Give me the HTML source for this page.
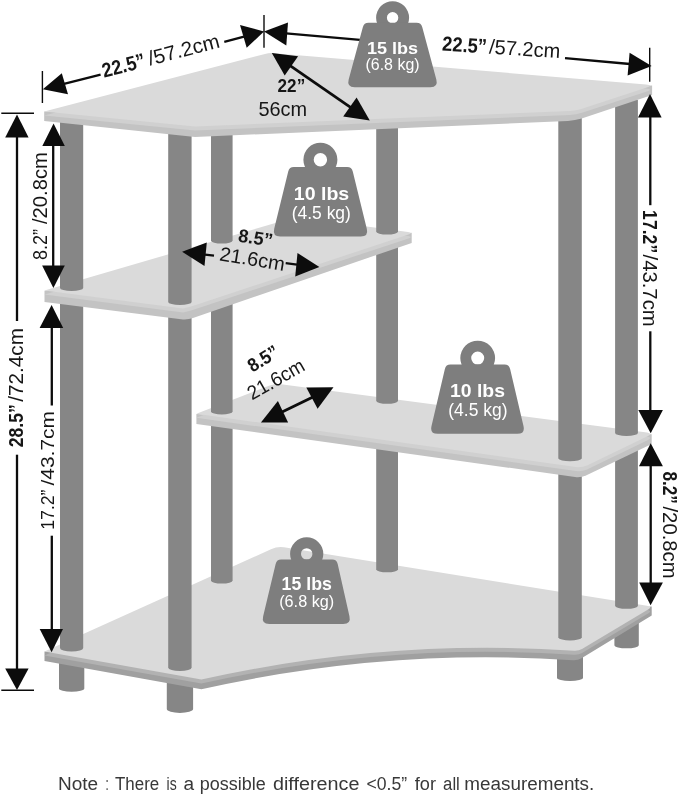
<!DOCTYPE html>
<html><head><meta charset="utf-8"><title>Corner desk dimensions</title>
<style>
html,body{margin:0;padding:0;background:#fff;}
body{width:679px;height:795px;overflow:hidden;}
svg{display:block;font-family:"Liberation Sans",sans-serif;will-change:transform;}
</style></head><body>
<svg width="679" height="795" viewBox="0 0 679 795">
<rect width="679" height="795" fill="#ffffff"/>
<path d="M59.0 655.0 L59.0 688.6 A12.6 3.2 0 0 0 84.3 688.6 L84.3 655.0 Z" fill="#868686"/>
<path d="M166.8 680.0 L166.8 709.1 A13.1 3.8 0 0 0 193.1 709.1 L193.1 680.0 Z" fill="#868686"/>
<path d="M557.0 650.0 L557.0 677.8 A13.0 3.2 0 0 0 583.0 677.8 L583.0 650.0 Z" fill="#868686"/>
<path d="M614.4 615.0 L614.4 645.3 A12.2 3.0 0 0 0 638.8 645.3 L638.8 615.0 Z" fill="#868686"/>
<path d="M44.5 651.6 L44.5 660.9 L201.4 689.3 Q387 647.5 573 660.3 Q577.5 660.6 581.5 658.2 L651.7 615.5 L651.7 606.5 Z" fill="#a0a0a0"/>
<path d="M44.5 651.6 L271 549.2 Q277.5 546.3 284 547.3 L647 605.8 Q652.5 606.7 648.5 609.2 L582 649.0 Q579 650.9 574.5 650.8 Q387 638 201.4 679.6 Z" fill="#b2b2b2" transform="translate(0 4)"/>
<path d="M44.5 651.6 L271 549.2 Q277.5 546.3 284 547.3 L647 605.8 Q652.5 606.7 648.5 609.2 L582 649.0 Q579 650.9 574.5 650.8 Q387 638 201.4 679.6 Z" fill="#dadada"/>
<path d="M60.0 298.0 L60.0 648.0 A11.6 3.6 0 0 0 83.2 648.0 L83.2 298.0 Z" fill="#868686"/>
<path d="M168.2 312.0 L168.2 667.4 A11.7 3.6 0 0 0 191.6 667.4 L191.6 312.0 Z" fill="#868686"/>
<path d="M211.0 418.0 L211.0 580.6 A10.8 3.0 0 0 0 232.6 580.6 L232.6 418.0 Z" fill="#868686"/>
<path d="M376.2 440.0 L376.2 569.3 A10.9 3.0 0 0 0 398.0 569.3 L398.0 440.0 Z" fill="#868686"/>
<path d="M558.3 468.0 L558.3 637.4 A11.8 3.4 0 0 0 581.8 637.4 L581.8 468.0 Z" fill="#868686"/>
<path d="M615.1 445.0 L615.1 605.8 A11.4 3.0 0 0 0 637.9 605.8 L637.9 445.0 Z" fill="#868686"/>
<path d="M196.4 414 L196.4 423.9 L575 477.0 Q581 477.8 586.5 475.2 L651.7 444.0 L651.7 434.2 Z" fill="#c3c3c3"/>
<path d="M196.4 413.8 L269 385.8 Q275 383.5 281 384.3 L647 432.6 Q653 433.6 648 436 L587 465.4 Q582 467.6 576 467.0 Z" fill="#d0d0d0" transform="translate(0 4)"/>
<path d="M196.4 413.8 L269 385.8 Q275 383.5 281 384.3 L647 432.6 Q653 433.6 648 436 L587 465.4 Q582 467.6 576 467.0 Z" fill="#dadada"/>
<path d="M211.0 300.0 L211.0 411.5 A10.8 3.0 0 0 0 232.6 411.5 L232.6 300.0 Z" fill="#868686"/>
<path d="M376.2 242.0 L376.2 400.8 A10.9 3.0 0 0 0 398.0 400.8 L398.0 242.0 Z" fill="#868686"/>
<path d="M558.3 115.0 L558.3 458.6 A11.8 3.0 0 0 0 581.8 458.6 L581.8 115.0 Z" fill="#868686"/>
<path d="M615.1 100.0 L615.1 433.0 A11.4 3.0 0 0 0 637.9 433.0 L637.9 100.0 Z" fill="#868686"/>
<path d="M44.5 290.8 L44.5 301.9 L181 319.2 Q187.5 320 193 318 L411.7 242.9 L411.7 232.7 Z" fill="#c3c3c3"/>
<path d="M44.5 290.5 L295.8 217.1 L408 232.0 Q413.5 232.7 408.5 234.4 L195 305.3 Q189.5 307.3 183 308.4 Z" fill="#d0d0d0" transform="translate(0 4)"/>
<path d="M44.5 290.5 L295.8 217.1 L408 232.0 Q413.5 232.7 408.5 234.4 L195 305.3 Q189.5 307.3 183 308.4 Z" fill="#dadada"/>
<path d="M60.0 115.0 L60.0 288.0 A11.6 3.0 0 0 0 83.2 288.0 L83.2 115.0 Z" fill="#868686"/>
<path d="M168.2 128.0 L168.2 301.9 A11.7 3.0 0 0 0 191.6 301.9 L191.6 128.0 Z" fill="#868686"/>
<path d="M211.0 130.0 L211.0 240.6 A10.8 3.0 0 0 0 232.6 240.6 L232.6 130.0 Z" fill="#868686"/>
<path d="M376.2 122.0 L376.2 231.6 A10.9 3.0 0 0 0 398.0 231.6 L398.0 122.0 Z" fill="#868686"/>
<path d="M44.2 111.5 L44.2 120.9 L195 137 L568 120.9 Q575 120.6 581.7 118.6 L652.1 95 L652.1 85.6 Z" fill="#c3c3c3"/>
<path d="M44.2 111.5 L265 53.9 Q269.3 52.8 274 53.2 L646 84.6 Q653 85.3 647.5 87.2 L582 108.8 Q576 110.7 570 110.9 L195 126.5 Z" fill="#d0d0d0" transform="translate(0 4)"/>
<path d="M44.2 111.5 L265 53.9 Q269.3 52.8 274 53.2 L646 84.6 Q653 85.3 647.5 87.2 L582 108.8 Q576 110.7 570 110.9 L195 126.5 Z" fill="#dadada"/>
<line x1="1.3" y1="113.2" x2="34.0" y2="113.2" stroke="#0c0c0c" stroke-width="1.40"/>
<line x1="1.3" y1="690.2" x2="34.0" y2="690.2" stroke="#0c0c0c" stroke-width="1.40"/>
<line x1="17.0" y1="135.0" x2="17.0" y2="321.0" stroke="#0c0c0c" stroke-width="2.30"/>
<line x1="17.0" y1="454.7" x2="17.0" y2="672.0" stroke="#0c0c0c" stroke-width="2.30"/>
<polygon points="17.0,114.4 5.2,137.6 28.6,137.6" fill="#0c0c0c" />
<polygon points="17.0,690.0 5.2,668.6 28.6,668.6" fill="#0c0c0c" />
<line x1="53.2" y1="144.0" x2="53.2" y2="268.0" stroke="#0c0c0c" stroke-width="2.30"/>
<polygon points="53.6,123.4 42.3,146.0 64.8,146.0" fill="#0c0c0c" />
<polygon points="53.4,288.0 42.1,265.6 64.8,265.6" fill="#0c0c0c" />
<line x1="51.8" y1="326.0" x2="51.8" y2="405.5" stroke="#0c0c0c" stroke-width="2.30"/>
<line x1="51.8" y1="535.7" x2="51.8" y2="631.0" stroke="#0c0c0c" stroke-width="2.30"/>
<polygon points="51.6,305.0 39.6,328.0 63.2,328.0" fill="#0c0c0c" />
<polygon points="51.6,652.3 39.7,629.0 63.0,629.0" fill="#0c0c0c" />
<line x1="649.7" y1="47.8" x2="649.7" y2="81.7" stroke="#0c0c0c" stroke-width="1.40"/>
<line x1="650.3" y1="115.0" x2="650.3" y2="205.2" stroke="#0c0c0c" stroke-width="2.30"/>
<line x1="650.3" y1="331.3" x2="650.3" y2="412.0" stroke="#0c0c0c" stroke-width="2.30"/>
<polygon points="650.0,94.0 638.0,117.5 661.6,117.5" fill="#0c0c0c" />
<polygon points="650.7,433.2 638.3,410.0 662.9,410.0" fill="#0c0c0c" />
<line x1="650.7" y1="464.0" x2="650.7" y2="585.0" stroke="#0c0c0c" stroke-width="2.30"/>
<polygon points="650.7,443.2 639.0,466.3 662.9,466.3" fill="#0c0c0c" />
<polygon points="650.6,605.3 639.2,582.6 662.9,582.6" fill="#0c0c0c" />
<line x1="42.4" y1="71.0" x2="42.4" y2="103.0" stroke="#0c0c0c" stroke-width="1.40"/>
<line x1="264.0" y1="15.0" x2="264.0" y2="47.8" stroke="#0c0c0c" stroke-width="1.40"/>
<line x1="63.0" y1="84.1" x2="100.6" y2="74.6" stroke="#0c0c0c" stroke-width="2.30"/>
<line x1="224.3" y1="41.8" x2="244.0" y2="36.6" stroke="#0c0c0c" stroke-width="2.30"/>
<polygon points="42.8,89.3 68.0,94.2 61.8,73.2" fill="#0c0c0c" />
<polygon points="264.0,31.4 240.0,25.0 246.7,47.8" fill="#0c0c0c" />
<line x1="286.0" y1="33.3" x2="360.0" y2="39.9" stroke="#0c0c0c" stroke-width="2.30"/>
<line x1="565.0" y1="58.2" x2="630.0" y2="64.0" stroke="#0c0c0c" stroke-width="2.30"/>
<polygon points="264.0,31.4 288.0,22.4 286.3,45.4" fill="#0c0c0c" />
<polygon points="651.6,65.9 629.6,52.8 627.6,75.6" fill="#0c0c0c" />
<line x1="285.0" y1="62.1" x2="356.0" y2="111.1" stroke="#0c0c0c" stroke-width="2.80"/>
<polygon points="271.8,53.0 298.1,56.3 284.7,75.4" fill="#0c0c0c" />
<polygon points="369.8,120.4 343.2,116.6 356.6,97.6" fill="#0c0c0c" />
<line x1="205.0" y1="254.6" x2="214.0" y2="255.6" stroke="#0c0c0c" stroke-width="2.30"/>
<line x1="285.7" y1="263.2" x2="297.0" y2="264.6" stroke="#0c0c0c" stroke-width="2.30"/>
<polygon points="182.1,251.8 206.8,242.4 204.5,265.9" fill="#0c0c0c" />
<polygon points="319.4,267.1 297.5,253.0 295.2,276.6" fill="#0c0c0c" />
<line x1="281.0" y1="412.5" x2="314.0" y2="396.5" stroke="#0c0c0c" stroke-width="3.00"/>
<polygon points="260.9,422.5 277.9,401.1 288.1,422.5" fill="#0c0c0c" />
<polygon points="333.5,387.2 306.3,387.6 317.6,408.7" fill="#0c0c0c" />
<path d="M376.10 17.70 a16.50 16.50 0 1 0 33.00 0 a16.50 16.50 0 1 0 -33.00 0 Z M386.90 17.70 a5.70 5.70 0 1 1 11.40 0 a5.70 5.70 0 1 1 -11.40 0 Z" fill="#7e7e7e" fill-rule="evenodd"/>
<path d="M362.83 27.14 Q364.00 22.80 368.50 22.80 L416.60 22.80 Q421.10 22.80 422.27 27.15 L436.33 79.57 Q438.40 87.30 430.40 87.30 L354.60 87.30 Q346.60 87.30 348.68 79.58 Z" fill="#7e7e7e"/>
<text transform="translate(367.0 53.8) rotate(0.00)" font-size="17.20" fill="#ffffff" text-anchor="start" textLength="51.1" lengthAdjust="spacingAndGlyphs"><tspan font-weight="bold">15 lbs</tspan></text>
<text transform="translate(365.5 70.4) rotate(0.00)" font-size="16.50" fill="#ffffff" text-anchor="start" textLength="54.1" lengthAdjust="spacingAndGlyphs"><tspan font-weight="normal">(6.8 kg)</tspan></text>
<path d="M303.40 159.80 a17.00 17.00 0 1 0 34.00 0 a17.00 17.00 0 1 0 -34.00 0 Z M313.70 159.80 a6.70 6.70 0 1 1 13.40 0 a6.70 6.70 0 1 1 -13.40 0 Z" fill="#7e7e7e" fill-rule="evenodd"/>
<path d="M288.23 171.47 Q289.30 167.10 293.80 167.10 L347.20 167.10 Q351.70 167.10 352.77 171.47 L366.80 228.73 Q368.70 236.50 360.70 236.50 L280.30 236.50 Q272.30 236.50 274.20 228.73 Z" fill="#7e7e7e"/>
<text transform="translate(293.8 199.8) rotate(0.00)" font-size="18.60" fill="#ffffff" text-anchor="start" textLength="55.4" lengthAdjust="spacingAndGlyphs"><tspan font-weight="bold">10 lbs</tspan></text>
<text transform="translate(291.7 218.9) rotate(0.00)" font-size="18.00" fill="#ffffff" text-anchor="start" textLength="59.2" lengthAdjust="spacingAndGlyphs"><tspan font-weight="normal">(4.5 kg)</tspan></text>
<path d="M460.30 358.10 a17.40 17.40 0 1 0 34.80 0 a17.40 17.40 0 1 0 -34.80 0 Z M471.20 358.10 a6.50 6.50 0 1 1 13.00 0 a6.50 6.50 0 1 1 -13.00 0 Z" fill="#7e7e7e" fill-rule="evenodd"/>
<path d="M444.88 368.88 Q445.90 364.50 450.40 364.50 L504.60 364.50 Q509.10 364.50 510.12 368.88 L523.48 426.01 Q525.30 433.80 517.30 433.80 L437.70 433.80 Q429.70 433.80 431.52 426.01 Z" fill="#7e7e7e"/>
<text transform="translate(450.0 397.4) rotate(0.00)" font-size="18.40" fill="#ffffff" text-anchor="start" textLength="55.0" lengthAdjust="spacingAndGlyphs"><tspan font-weight="bold">10 lbs</tspan></text>
<text transform="translate(448.3 415.8) rotate(0.00)" font-size="17.80" fill="#ffffff" text-anchor="start" textLength="59.2" lengthAdjust="spacingAndGlyphs"><tspan font-weight="normal">(4.5 kg)</tspan></text>
<path d="M290.10 553.90 a16.60 16.60 0 1 0 33.20 0 a16.60 16.60 0 1 0 -33.20 0 Z M301.00 553.90 a5.70 5.70 0 1 1 11.40 0 a5.70 5.70 0 1 1 -11.40 0 Z" fill="#7e7e7e" fill-rule="evenodd"/>
<path d="M275.65 563.88 Q276.70 559.50 281.20 559.50 L332.20 559.50 Q336.70 559.50 337.69 563.89 L349.45 616.19 Q351.20 624.00 343.20 624.00 L269.30 624.00 Q261.30 624.00 263.16 616.22 Z" fill="#7e7e7e"/>
<text transform="translate(281.6 590.3) rotate(0.00)" font-size="18.40" fill="#ffffff" text-anchor="start" textLength="50.2" lengthAdjust="spacingAndGlyphs"><tspan font-weight="bold">15 lbs</tspan></text>
<text transform="translate(279.2 606.8) rotate(0.00)" font-size="17.00" fill="#ffffff" text-anchor="start" textLength="55.0" lengthAdjust="spacingAndGlyphs"><tspan font-weight="normal">(6.8 kg)</tspan></text>
<text transform="translate(104.1 77.7) rotate(-14.70)" font-size="20.40" fill="#161616" text-anchor="start" textLength="43.8" lengthAdjust="spacingAndGlyphs"><tspan font-weight="bold">22.5”</tspan></text>
<text transform="translate(150.0 65.6) rotate(-14.70)" font-size="20.40" fill="#161616" text-anchor="start" textLength="73.1" lengthAdjust="spacingAndGlyphs"><tspan font-weight="normal">/57.2cm</tspan></text>
<text transform="translate(441.8 50.6) rotate(3.60)" font-size="20.40" fill="#161616" text-anchor="start" textLength="44.8" lengthAdjust="spacingAndGlyphs"><tspan font-weight="bold">22.5”</tspan></text>
<text transform="translate(488.8 53.6) rotate(3.60)" font-size="20.40" fill="#161616" text-anchor="start" textLength="71.2" lengthAdjust="spacingAndGlyphs"><tspan font-weight="normal">/57.2cm</tspan></text>
<text transform="translate(277.6 91.7) rotate(0.00)" font-size="18.40" fill="#161616" text-anchor="start" textLength="27.6" lengthAdjust="spacingAndGlyphs"><tspan font-weight="bold">22”</tspan></text>
<text transform="translate(258.4 115.6) rotate(0.00)" font-size="20.40" fill="#161616" text-anchor="start" textLength="48.7" lengthAdjust="spacingAndGlyphs"><tspan font-weight="normal">56cm</tspan></text>
<text transform="translate(237.6 241.4) rotate(9.00)" font-size="18.40" fill="#161616" text-anchor="start" textLength="34.5" lengthAdjust="spacingAndGlyphs"><tspan font-weight="bold">8.5”</tspan></text>
<text transform="translate(218.8 260.2) rotate(9.40)" font-size="19.80" fill="#161616" text-anchor="start" textLength="65.7" lengthAdjust="spacingAndGlyphs"><tspan font-weight="normal">21.6cm</tspan></text>
<text transform="translate(252.4 372.8) rotate(-31.50)" font-size="19.00" fill="#161616" text-anchor="start" textLength="33.0" lengthAdjust="spacingAndGlyphs"><tspan font-weight="bold">8.5”</tspan></text>
<text transform="translate(252.0 400.6) rotate(-29.60)" font-size="19.80" fill="#161616" text-anchor="start" textLength="62.4" lengthAdjust="spacingAndGlyphs"><tspan font-weight="normal">21.6cm</tspan></text>
<text transform="translate(22.7 447.3) rotate(-90.00)" font-size="20.40" fill="#161616" text-anchor="start" textLength="43.2" lengthAdjust="spacingAndGlyphs"><tspan font-weight="bold">28.5”</tspan></text>
<text transform="translate(22.7 401.7) rotate(-90.00)" font-size="20.40" fill="#161616" text-anchor="start" textLength="73.7" lengthAdjust="spacingAndGlyphs"><tspan font-weight="normal">/72.4cm</tspan></text>
<text transform="translate(53.9 529.7) rotate(-90.00)" font-size="18.50" fill="#161616" text-anchor="start" textLength="40.2" lengthAdjust="spacingAndGlyphs"><tspan font-weight="normal">17.2”</tspan></text>
<text transform="translate(53.9 485.5) rotate(-90.00)" font-size="18.50" fill="#161616" text-anchor="start" textLength="74.4" lengthAdjust="spacingAndGlyphs"><tspan font-weight="normal">/43.7cm</tspan></text>
<text transform="translate(46.6 260.0) rotate(-90.00)" font-size="19.70" fill="#161616" text-anchor="start" textLength="31.1" lengthAdjust="spacingAndGlyphs"><tspan font-weight="normal">8.2”</tspan></text>
<text transform="translate(46.6 224.0) rotate(-90.00)" font-size="19.70" fill="#161616" text-anchor="start" textLength="71.9" lengthAdjust="spacingAndGlyphs"><tspan font-weight="normal">/20.8cm</tspan></text>
<text transform="translate(642.5 210.1) rotate(90.00)" font-size="21.00" fill="#161616" text-anchor="start" textLength="43.1" lengthAdjust="spacingAndGlyphs"><tspan font-weight="bold">17.2”</tspan></text>
<text transform="translate(642.5 254.5) rotate(90.00)" font-size="21.00" fill="#161616" text-anchor="start" textLength="72.2" lengthAdjust="spacingAndGlyphs"><tspan font-weight="normal">/43.7cm</tspan></text>
<text transform="translate(662.8 471.4) rotate(90.00)" font-size="20.00" fill="#161616" text-anchor="start" textLength="32.5" lengthAdjust="spacingAndGlyphs"><tspan font-weight="bold">8.2”</tspan></text>
<text transform="translate(662.8 506.5) rotate(90.00)" font-size="20.00" fill="#161616" text-anchor="start" textLength="72.0" lengthAdjust="spacingAndGlyphs"><tspan font-weight="normal">/20.8cm</tspan></text>
<text transform="translate(58.0 790.0) rotate(0.00)" font-size="18.00" fill="#383838" text-anchor="start" textLength="40.2" lengthAdjust="spacingAndGlyphs"><tspan font-weight="normal">Note</tspan></text>
<text transform="translate(105.4 790.0) rotate(0.00)" font-size="18.00" fill="#383838" text-anchor="start" textLength="3.2" lengthAdjust="spacingAndGlyphs"><tspan font-weight="normal">:</tspan></text>
<text transform="translate(115.0 790.0) rotate(0.00)" font-size="18.00" fill="#383838" text-anchor="start" textLength="44.2" lengthAdjust="spacingAndGlyphs"><tspan font-weight="normal">There</tspan></text>
<text transform="translate(166.6 790.0) rotate(0.00)" font-size="18.00" fill="#383838" text-anchor="start" textLength="10.1" lengthAdjust="spacingAndGlyphs"><tspan font-weight="normal">is</tspan></text>
<text transform="translate(183.4 790.0) rotate(0.00)" font-size="18.00" fill="#383838" text-anchor="start" textLength="10.6" lengthAdjust="spacingAndGlyphs"><tspan font-weight="normal">a</tspan></text>
<text transform="translate(199.8 790.0) rotate(0.00)" font-size="18.00" fill="#383838" text-anchor="start" textLength="66.0" lengthAdjust="spacingAndGlyphs"><tspan font-weight="normal">possible</tspan></text>
<text transform="translate(272.9 790.0) rotate(0.00)" font-size="18.00" fill="#383838" text-anchor="start" textLength="86.5" lengthAdjust="spacingAndGlyphs"><tspan font-weight="normal">difference</tspan></text>
<text transform="translate(366.5 790.0) rotate(0.00)" font-size="18.00" fill="#383838" text-anchor="start" textLength="40.6" lengthAdjust="spacingAndGlyphs"><tspan font-weight="normal">&lt;0.5”</tspan></text>
<text transform="translate(414.8 790.0) rotate(0.00)" font-size="18.00" fill="#383838" text-anchor="start" textLength="21.2" lengthAdjust="spacingAndGlyphs"><tspan font-weight="normal">for</tspan></text>
<text transform="translate(443.1 790.0) rotate(0.00)" font-size="18.00" fill="#383838" text-anchor="start" textLength="16.7" lengthAdjust="spacingAndGlyphs"><tspan font-weight="normal">all</tspan></text>
<text transform="translate(464.3 790.0) rotate(0.00)" font-size="18.00" fill="#383838" text-anchor="start" textLength="130.0" lengthAdjust="spacingAndGlyphs"><tspan font-weight="normal">measurements.</tspan></text>
</svg>
</body></html>
